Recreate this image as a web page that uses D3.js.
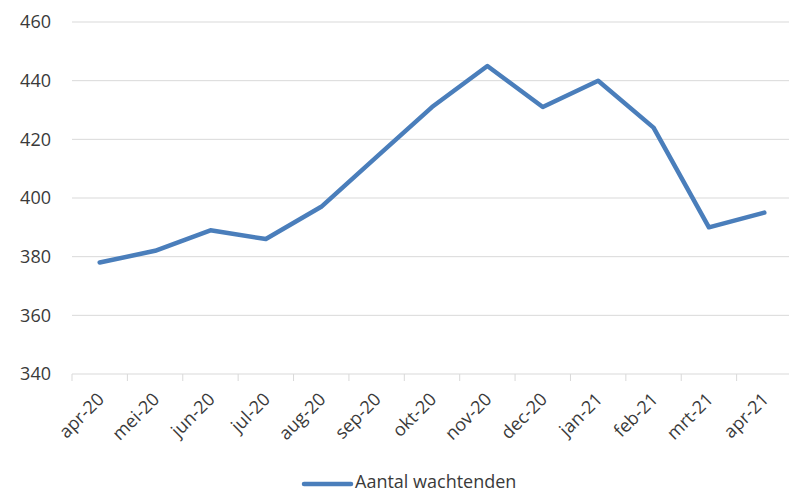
<!DOCTYPE html>
<html>
<head>
<meta charset="utf-8">
<script src="https://cdn.jsdelivr.net/npm/d3@7"></script>
<style>
  body { margin: 0; background: #fff; }
  svg text { font-family: "Open Sans", "Liberation Sans", sans-serif; fill: #3a3a3a; }
</style>
</head>
<body>
<div id="chart"></div>
<script>
const months = ["apr-20", "mei-20", "jun-20", "jul-20", "aug-20", "sep-20", "okt-20",
    "nov-20", "dec-20", "jan-21", "feb-21", "mrt-21", "apr-21"];
const wachtenden = [378, 382, 389, 386, 397, 414, 431, 445, 431, 440, 424, 390, 395];
const yTicks = [340, 360, 380, 400, 420, 440, 460];

const width = 789;
const height = 493;
const margin = {top: 22, right: -3, bottom: 119, left: 72};

const svg = d3.select("#chart")
    .append("svg")
    .attr("width", width)
    .attr("height", height);

const x = d3.scaleBand()
    .domain(months)
    .range([margin.left, width - margin.right]);

const y = d3.scaleLinear()
    .domain([340, 460])
    .range([height - margin.bottom, margin.top]);

// gridlines
svg.append("g")
    .selectAll("line")
    .data(yTicks.slice(1))
    .enter().append("line")
    .attr("x1", margin.left)
    .attr("x2", width)
    .attr("y1", d => y(d))
    .attr("y2", d => y(d))
    .attr("stroke", "#d9d9d9")
    .attr("stroke-width", 1);

// y labels
svg.append("g")
    .selectAll("text")
    .data(yTicks)
    .enter().append("text")
    .attr("x", 51)
    .attr("y", d => y(d))
    .attr("dy", "0.35em")
    .attr("text-anchor", "end")
    .style("font-size", "18px")
    .text(d => d);

// x axis line + tick marks between categories
const base = y(340);
svg.append("line")
    .attr("x1", margin.left)
    .attr("x2", width)
    .attr("y1", base)
    .attr("y2", base)
    .attr("stroke", "#d9d9d9");

svg.append("g")
    .selectAll("line")
    .data(months)
    .enter().append("line")
    .attr("x1", d => x(d))
    .attr("x2", d => x(d))
    .attr("y1", base)
    .attr("y2", base + 7)
    .attr("stroke", "#d9d9d9");

// x labels
svg.append("g")
    .selectAll("text")
    .data(months)
    .enter().append("text")
    .attr("transform", d => `translate(${x(d) + x.bandwidth() / 2 + 1},${base + 22}) rotate(-45)`)
    .attr("text-anchor", "end")
    .attr("dy", "0.35em")
    .style("font-size", "18px")
    .text(d => d);

// series line
const line = d3.line()
    .x((d, i) => x(months[i]) + x.bandwidth() / 2)
    .y(d => y(d));

svg.append("path")
    .datum(wachtenden)
    .attr("d", line)
    .attr("fill", "none")
    .attr("stroke", "#4a7ebb")
    .attr("stroke-width", 4.5)
    .attr("stroke-linejoin", "round")
    .attr("stroke-linecap", "round");

// legend
svg.append("line")
    .attr("x1", 304)
    .attr("x2", 351)
    .attr("y1", 484)
    .attr("y2", 484)
    .attr("stroke", "#4a7ebb")
    .attr("stroke-width", 4.5)
    .attr("stroke-linecap", "round");

svg.append("text")
    .attr("x", 355)
    .attr("y", 482)
    .attr("dy", "0.35em")
    .style("font-size", "18px")
    .text("Aantal wachtenden");
</script>
</body>
</html>
